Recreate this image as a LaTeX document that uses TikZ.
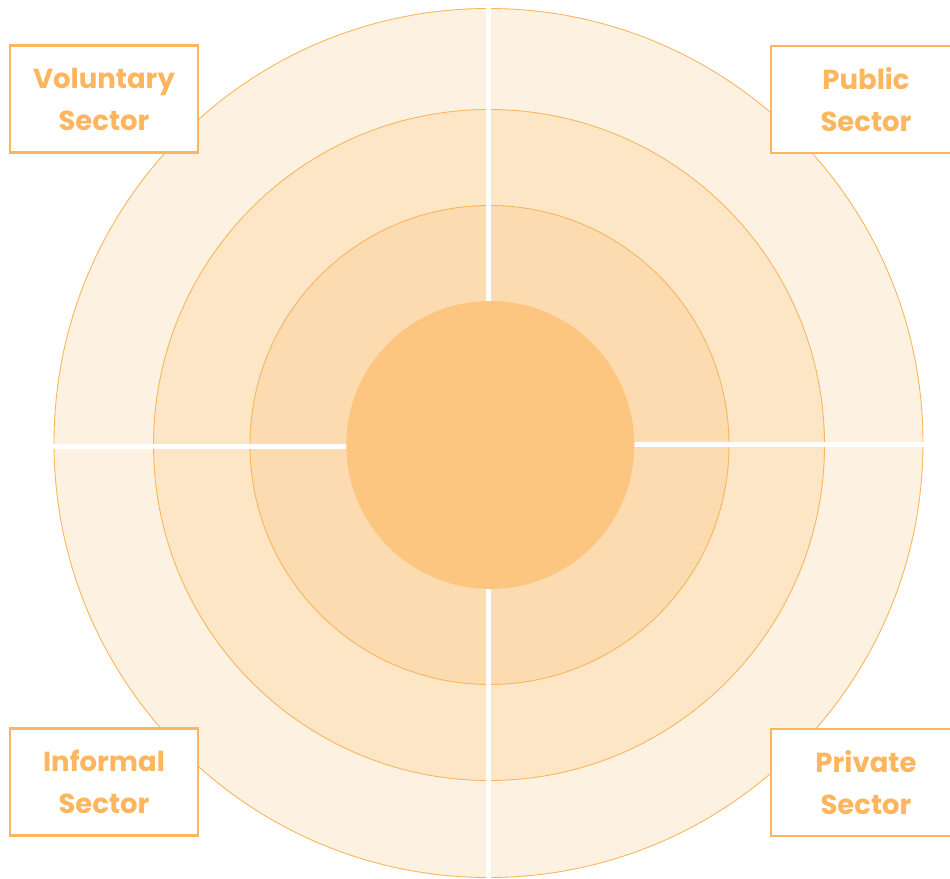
\documentclass[tikz,border=0pt]{standalone}
\usepackage{fontspec}
\setmainfont{Poppins}
\definecolor{ring1}{HTML}{FDF2E2}
\definecolor{ring2}{HTML}{FDE6C6}
\definecolor{ring3}{HTML}{FCDBB1}
\definecolor{core}{HTML}{FCC580}
\definecolor{edge}{HTML}{F9B65B}
\definecolor{lbl}{HTML}{FDB65E}
\begin{document}
\begin{tikzpicture}[x=1pt,y=-1pt,
  ring/.style={circle,draw=edge,line width=0.9pt,inner sep=0pt},
  sector/.style={draw=lbl,line width=2.8pt,fill=white,minimum width=188pt,minimum height=107pt,
    text=lbl,font=\fontsize{27.5}{42}\selectfont\bfseries,align=center,inner sep=0pt},
  divider/.style={draw=white,line width=5pt}]
\useasboundingbox (0,0) rectangle (950,878);
\node[ring,fill=ring1,minimum size=869pt] (r1) at (488.5,443) {};
\node[ring,fill=ring2,minimum size=671pt] (r2) at (489,445) {};
\node[ring,fill=ring3,minimum size=479pt] (r3) at (489.5,445) {};
\coordinate (vt) at (488.5,0);
\coordinate (vtc) at (488.5,310);
\coordinate (vb) at (488.3,878);
\coordinate (vbc) at (488.3,580);
\coordinate (hl) at (40,446);
\coordinate (hlc) at (355,446);
\coordinate (hr) at (940,444.8);
\coordinate (hrc) at (625,444.8);
\draw[divider] (vt) -- (vtc);
\draw[divider] (vb) -- (vbc);
\draw[divider] (hl) -- (hlc);
\draw[divider] (hr) -- (hrc);
\node[circle,fill=core,minimum size=288pt,inner sep=0pt] (core) at (490.3,445) {};
\node[sector] (vol) at (104,99) {Voluntary\\Sector};
\node[sector,minimum width=190pt] (pub) at (866,99.5) {Public\\Sector};
\node[sector] (inf) at (104,782) {Informal\\Sector};
\node[sector,minimum width=190pt] (pri) at (866,782.5) {Private\\Sector};
\end{tikzpicture}
\end{document}
